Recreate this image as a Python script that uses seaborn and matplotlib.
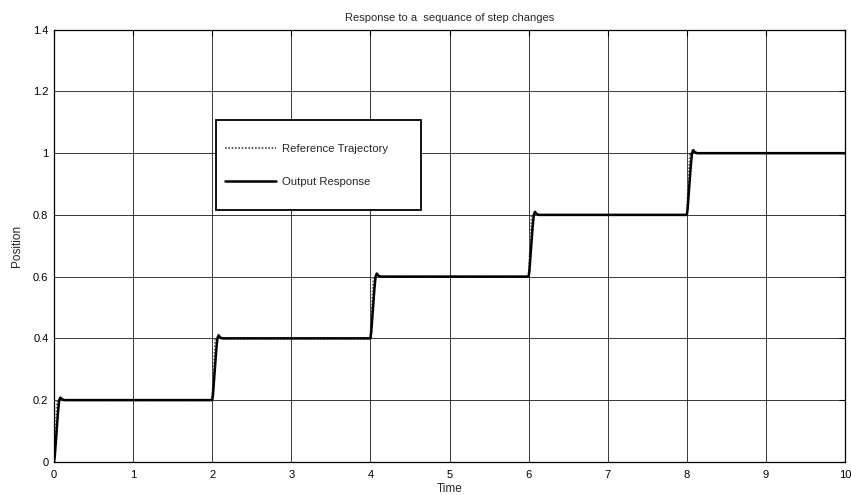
import matplotlib
matplotlib.use("Agg")
import matplotlib.pyplot as plt
from matplotlib.patches import Rectangle
import pandas as pd
import seaborn as sns

# reference trajectory (dotted)
ref_time = [0.0, 0.0, 0.04, 2.0, 2.04, 4.0, 4.04, 6.0, 6.04, 8.0, 8.04, 10.0]
ref_pos = [0.0, 0.0, 0.2, 0.2, 0.4, 0.4, 0.6, 0.6, 0.8, 0.8, 1.0, 1.0]

# output response (solid), small overshoot after each step
out_time = [0.0, 0.01, 0.03, 0.05, 0.065, 0.08, 0.10, 0.13,
            2.0, 2.01, 2.03, 2.05, 2.065, 2.08, 2.10, 2.13,
            4.0, 4.01, 4.03, 4.05, 4.065, 4.08, 4.10, 4.13,
            6.0, 6.01, 6.03, 6.05, 6.065, 6.08, 6.10, 6.13,
            8.0, 8.01, 8.03, 8.05, 8.065, 8.08, 8.10, 8.13, 10.0]
out_pos = [0.0, 0.02, 0.09, 0.16, 0.20, 0.208, 0.203, 0.2,
           0.2, 0.22, 0.29, 0.36, 0.40, 0.41, 0.403, 0.4,
           0.4, 0.42, 0.49, 0.56, 0.60, 0.61, 0.603, 0.6,
           0.6, 0.62, 0.69, 0.76, 0.80, 0.81, 0.803, 0.8,
           0.8, 0.82, 0.89, 0.96, 1.00, 1.01, 1.003, 1.0, 1.0]

x_ticks = [0, 1, 2, 3, 4, 5, 6, 7, 8, 9, 10]
y_ticks = [0, 0.2, 0.4, 0.6, 0.8, 1.0, 1.2, 1.4]
y_labels = ["0", "0.2", "0.4", "0.6", "0.8", "1", "1.2", "1.4"]

sns.set_style("white")
plt.rcParams["font.family"] = ["Liberation Sans", "DejaVu Sans"]

fig = plt.figure(figsize=(8.51, 4.95), dpi=100)
ax = fig.add_axes([0.0635, 0.067, 0.9295, 0.873])

ref_df = pd.DataFrame({"Time": ref_time, "Position": ref_pos})
out_df = pd.DataFrame({"Time": out_time, "Position": out_pos})

sns.lineplot(data=ref_df, x="Time", y="Position", ax=ax, sort=False,
             estimator=None, color="0.4", lw=1.5, linestyle=(0, (0.8, 0.8)),
             label="Reference Trajectory")
sns.lineplot(data=out_df, x="Time", y="Position", ax=ax, sort=False,
             estimator=None, color="black", lw=1.8, label="Output Response")

ax.set_xlim(0, 10)
ax.set_ylim(0, 1.4)
ax.set_xticks(x_ticks)
ax.set_xticklabels([str(t) for t in x_ticks])
ax.set_yticks(y_ticks)
ax.set_yticklabels(y_labels)
ax.grid(True, color="0.1", lw=0.6)
ax.tick_params(direction="in", length=4, width=0.8, labelsize=8,
               top=True, right=True, colors="black")
ax.tick_params(axis="x", pad=6)
ax.tick_params(axis="y", pad=4)
for s in ax.spines.values():
    s.set_visible(True)
    s.set_color("black")
    s.set_linewidth(0.9)

ax.set_title("Response to a  sequance of step changes", fontsize=8, pad=6)
ax.set_xlabel("Time", fontsize=8.5, labelpad=2)
ax.set_ylabel("Position", fontsize=8.5, labelpad=7)

# legend box drawn as a plain rectangle, MATLAB style
box = Rectangle((0.205, 0.583), 0.259, 0.209, transform=ax.transAxes,
                facecolor="white", edgecolor="black", lw=1.3, zorder=3)
ax.add_patch(box)
leg = ax.legend(loc="upper left", bbox_to_anchor=(0.216, 0.736),
                fontsize=8.2, frameon=False, handlelength=4.5,
                labelspacing=2.05, borderpad=0, handletextpad=0.55,
                borderaxespad=0)
leg.set_zorder(4)

fig.savefig("out.png", dpi=100)
